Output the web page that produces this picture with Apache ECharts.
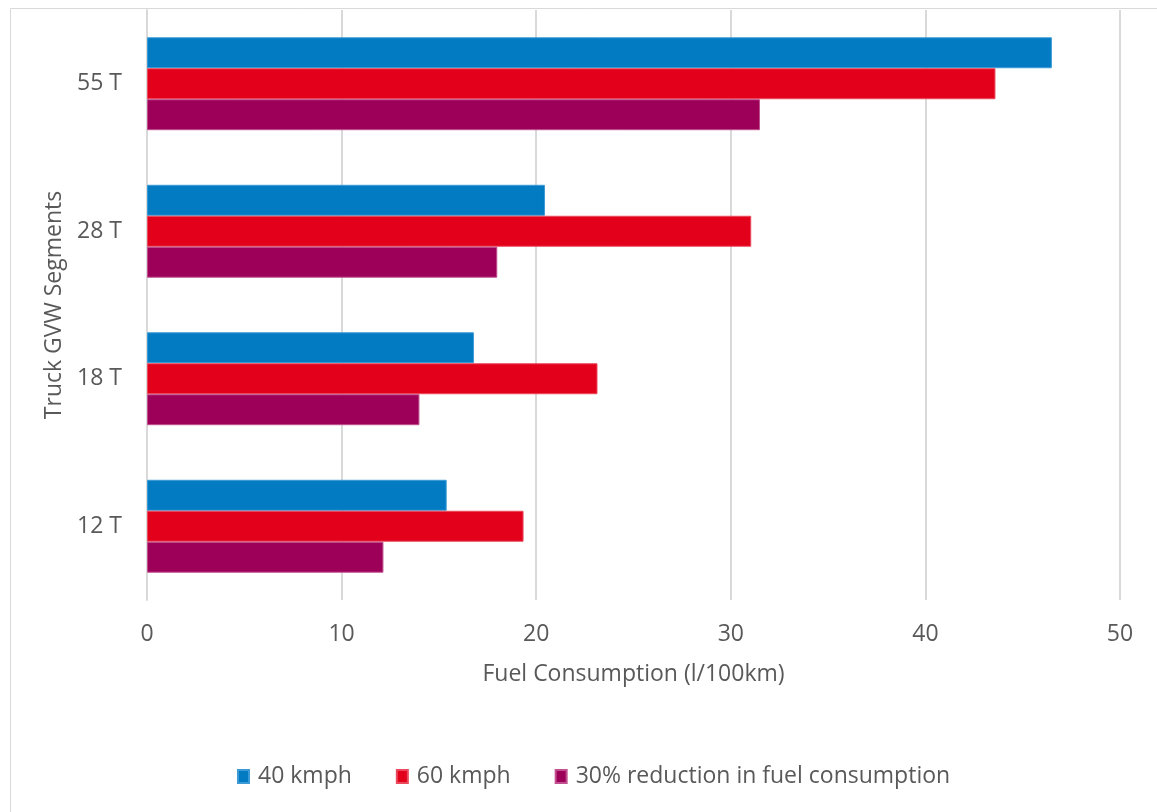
<!DOCTYPE html>
<html>
<head>
<meta charset="utf-8">
<script src="https://cdn.jsdelivr.net/npm/echarts@6/dist/echarts.min.js"></script>
<style>
  html, body { margin: 0; padding: 0; background: #fff; }
  #chart { width: 1157px; height: 812px; }
</style>
</head>
<body>
<div id="chart"></div>
<script>
// Truck weight segments, listed top to bottom
const segments = ['55 T', '28 T', '18 T', '12 T'];

// Fuel consumption (l/100km) per segment
const speed40 = [46.5, 20.45, 16.8, 15.4];
const speed60 = [43.6, 31.05, 23.15, 19.35];
const reduced30 = [31.5, 18.0, 14.0, 12.15];

const seriesNames = ['40 kmph', '60 kmph', '30% reduction in fuel consumption'];
const xTicks = [0, 10, 20, 30, 40, 50];

const textColor = '#595959';
const gridColor = '#d9d9d9';
const font = 'Open Sans, Liberation Sans, sans-serif';
const fontSize = 23;

const chart = echarts.init(document.getElementById('chart'), null, { renderer: 'canvas' });

function barSeries(name, data, color, border) {
  return {
    name: name,
    type: 'bar',
    data: data,
    barGap: '0%',
    barCategoryGap: '37%',
    itemStyle: { color: color, borderColor: border, borderWidth: 1 },
    emphasis: { disabled: true }
  };
}

chart.setOption({
  animation: false,
  backgroundColor: '#fff',
  graphic: [{
    type: 'rect',
    shape: { x: 10.5, y: 8.5, width: 1160, height: 820 },
    style: { fill: 'none', stroke: gridColor, lineWidth: 1 },
    silent: true
  }],
  grid: { left: 147, right: 37, top: 10, bottom: 212, containLabel: false },
  legend: {
    data: seriesNames,
    top: 760,
    left: 232,
    itemWidth: 11,
    itemHeight: 13,
    itemGap: 44,
    icon: 'rect',
    textStyle: { color: textColor, fontSize: fontSize, fontFamily: font, padding: [0, 0, 0, 4] }
  },
  xAxis: {
    type: 'value',
    min: xTicks[0],
    max: xTicks[xTicks.length - 1],
    interval: 10,
    name: 'Fuel Consumption (l/100km)',
    nameLocation: 'middle',
    nameGap: 63,
    nameTextStyle: { color: textColor, fontSize: fontSize, fontFamily: font },
    axisLine: { show: false },
    axisTick: { show: false },
    axisLabel: { color: textColor, fontSize: fontSize, fontFamily: font, margin: 23 },
    splitLine: { lineStyle: { color: gridColor, width: 2 } }
  },
  yAxis: {
    type: 'category',
    data: segments,
    inverse: true,
    name: 'Truck GVW Segments',
    nameLocation: 'middle',
    nameGap: 80,
    nameRotate: 90,
    nameTextStyle: { color: textColor, fontSize: fontSize, fontFamily: font },
    axisLine: { show: true, lineStyle: { color: gridColor, width: 2 } },
    axisTick: { show: false },
    axisLabel: { color: textColor, fontSize: fontSize, fontFamily: font, margin: 25 }
  },
  series: [
    barSeries(seriesNames[0], speed40, '#027bc2', '#3c9ad6'),
    barSeries(seriesNames[1], speed60, '#e2001a', '#ea4a5c'),
    barSeries(seriesNames[2], reduced30, '#9d0058', '#c0508f')
  ]
});
</script>
</body>
</html>
